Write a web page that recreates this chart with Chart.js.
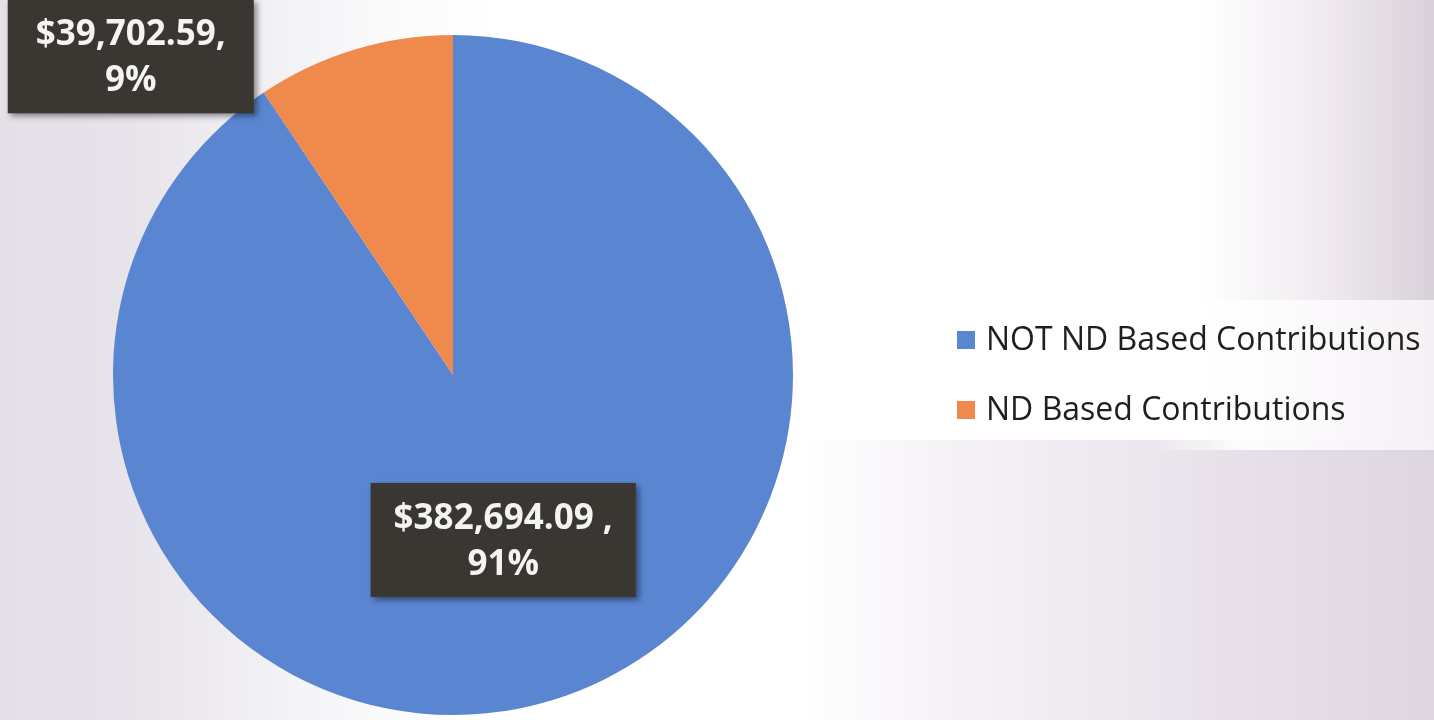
<!DOCTYPE html>
<html>
<head>
<meta charset="utf-8">
<script src="https://cdn.jsdelivr.net/npm/chart.js@4.4.1/dist/chart.umd.min.js"></script>
<style>
  html, body { margin: 0; padding: 0; }
  body {
    width: 1434px; height: 720px; overflow: hidden; position: relative;
    background: linear-gradient(to right, #e3e0e8 0px, #e6e3ea 120px, #eeecf1 220px, #fafafb 380px, #ffffff 500px, #ffffff 1200px, #efe9ef 1330px, #d9d1da 1434px);
  }
  #lower {
    position: absolute; left: 800px; top: 440px; width: 634px; height: 280px;
    background: linear-gradient(to right, rgba(238,232,240,0) 0px, rgba(238,232,240,0.6) 160px, rgba(230,222,232,0.95) 450px, rgba(222,214,224,1) 634px);
  }
  #band {
    position: absolute; left: 1150px; top: 300px; width: 284px; height: 150px;
    background: linear-gradient(to right, rgba(255,255,255,0), rgba(255,255,255,0.9) 90px, rgba(248,244,248,0.9));
  }
  #wrap { position: absolute; left: 0; top: 0; width: 1434px; height: 720px; }
</style>
</head>
<body>
<div id="lower"></div>
<div id="band"></div>
<div id="wrap"><canvas id="pieChart"></canvas></div>
<script>
// --- DATA ---
const labels = ['NOT ND Based Contributions', 'ND Based Contributions'];
const amounts = [382694.09, 39702.59];
const separators = [' ,', ','];
const colors = ['#5a86d1', '#f08a4c'];

const total = amounts.reduce((a, b) => a + b, 0);
const money = v => '$' + v.toLocaleString('en-US', { minimumFractionDigits: 2, maximumFractionDigits: 2 });

// where Excel put the data labels: fraction of radius and angle shift from the slice middle
const labelPlace = [{ r: 0.507, da: 0, pad: 46 }, { r: 1.333, da: -28.4, pad: 56 }];

// --- LABEL BOXES + LEGEND ---
const boxLabels = {
  id: 'boxLabels',
  afterDatasetsDraw(chart) {
    const ctx = chart.ctx;
    const arcs = chart.getDatasetMeta(0).data;
    ctx.save();
    ctx.font = 'bold 35px "Open Sans", "Noto Sans", sans-serif';
    ctx.textAlign = 'center';
    ctx.textBaseline = 'middle';
    arcs.forEach((arc, i) => {
      const p = arc.getProps(['x', 'y', 'startAngle', 'endAngle', 'outerRadius'], true);
      const mid = (p.startAngle + p.endAngle) / 2 + labelPlace[i].da * Math.PI / 180;
      const cx = p.x + Math.cos(mid) * p.outerRadius * labelPlace[i].r;
      const cy = p.y + Math.sin(mid) * p.outerRadius * labelPlace[i].r;
      const line1 = money(amounts[i]) + separators[i];
      const line2 = Math.round(amounts[i] / total * 100) + '%';
      const w = Math.max(ctx.measureText(line1).width, ctx.measureText(line2).width) + labelPlace[i].pad;
      const h = 114;
      ctx.save();
      ctx.shadowColor = 'rgba(0,0,0,0.45)';
      ctx.shadowBlur = 6;
      ctx.shadowOffsetX = 3;
      ctx.shadowOffsetY = 3;
      ctx.fillStyle = '#3a3631';
      ctx.fillRect(cx - w / 2, cy - h / 2, w, h);
      ctx.restore();
      ctx.fillStyle = '#f4f4f2';
      ctx.fillText(line1, cx, cy - 21);
      ctx.fillText(line2, cx, cy + 25);
    });

    // legend
    ctx.textAlign = 'left';
    ctx.font = '32px "Open Sans", "Noto Sans", sans-serif';
    labels.forEach((lab, i) => {
      const y = 340 + i * 70;
      ctx.fillStyle = colors[i];
      ctx.fillRect(957, y - 9, 18, 18);
      ctx.fillStyle = '#1f1f1f';
      ctx.fillText(lab, 986, y + 1);
    });
    ctx.restore();
  }
};

new Chart(document.getElementById('pieChart').getContext('2d'), {
  type: 'pie',
  data: {
    labels: labels,
    datasets: [{ data: amounts, backgroundColor: colors, borderWidth: 0 }]
  },
  options: {
    responsive: true,
    maintainAspectRatio: false,
    animation: false,
    layout: { padding: { left: 113, right: 641, top: 35, bottom: 5 } },
    plugins: { legend: { display: false }, tooltip: { enabled: false } }
  },
  plugins: [boxLabels]
});
</script>
</body>
</html>
